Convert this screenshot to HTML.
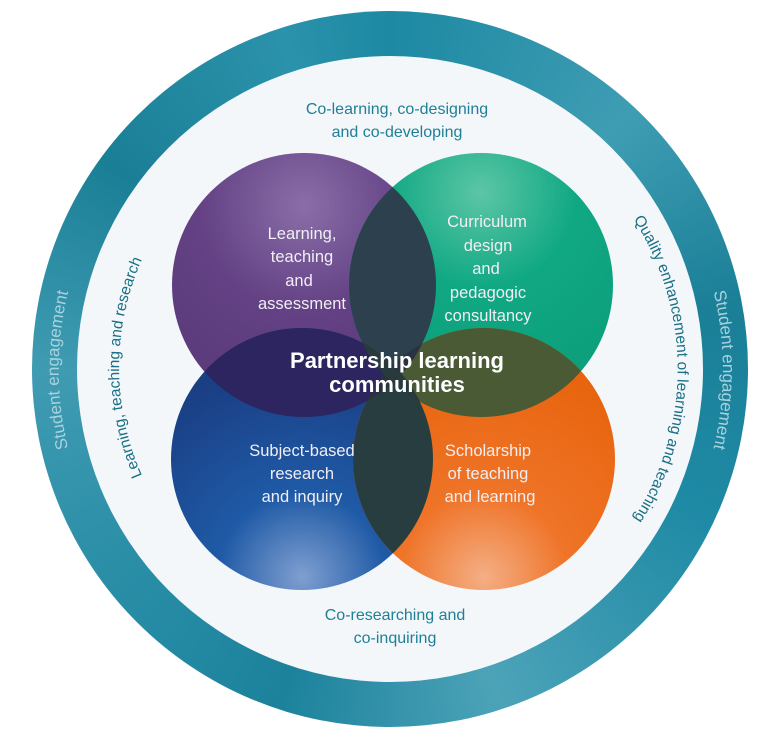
<!DOCTYPE html>
<html><head><meta charset="utf-8"><style>
html,body{margin:0;padding:0;background:#fff;}
body{width:768px;height:733px;overflow:hidden;position:relative;font-family:"Liberation Sans",sans-serif;}
#ring{position:absolute;left:32px;top:11px;width:716px;height:716px;border-radius:50%;
background:conic-gradient(from 0deg,#1d89a3,#3f9db3 12%,#1a7f97 22%,#1f8aa5 32%,#4ca3b8 45%,#1c829c 55%,#2a8ea7 65%,#3f9bb2 75%,#1a7f96 85%,#2b92ab 95%,#1d89a3);}
svg{position:absolute;left:0;top:0;}
</style></head><body>
<div id="ring"></div>
<svg width="768" height="733" viewBox="0 0 768 733">
<defs>
<radialGradient id="gp" cx="0.5" cy="0.2" r="0.8"><stop offset="0" stop-color="#8a6ea8"/><stop offset="0.5" stop-color="#634184"/><stop offset="1" stop-color="#5a3a7a"/></radialGradient>
<radialGradient id="gg" cx="0.5" cy="0.15" r="0.8"><stop offset="0" stop-color="#5cc6a6"/><stop offset="0.45" stop-color="#10a883"/><stop offset="1" stop-color="#0c9e7b"/></radialGradient>
<radialGradient id="gb" cx="0.5" cy="0.95" r="0.8"><stop offset="0" stop-color="#7f9fd0"/><stop offset="0.4" stop-color="#1f5aa6"/><stop offset="1" stop-color="#1a3f85"/></radialGradient>
<radialGradient id="go" cx="0.5" cy="0.95" r="0.8"><stop offset="0" stop-color="#f4ae85"/><stop offset="0.4" stop-color="#ef7428"/><stop offset="1" stop-color="#e8650f"/></radialGradient>
<clipPath id="cp"><circle cx="304" cy="285" r="132"/></clipPath>
<clipPath id="cg"><circle cx="481" cy="285" r="132"/></clipPath>
<clipPath id="cb"><circle cx="302" cy="459" r="131"/></clipPath>
<clipPath id="co"><circle cx="484" cy="459" r="131"/></clipPath>
<path id="pl" d="M 232 585 A 266 266 0 0 1 232 150"/>
<path id="pr" d="M 548 135 A 276 276 0 0 1 548 603"/>
<path id="sl" d="M 120 560 A 325 325 0 0 1 120 180"/>
<path id="sr" d="M 660 175 A 334 334 0 0 1 660 565"/>
</defs>
<circle cx="390" cy="369" r="313" fill="#f3f7f9"/>
<circle cx="304" cy="285" r="132" fill="url(#gp)"/>
<circle cx="481" cy="285" r="132" fill="url(#gg)"/>
<circle cx="302" cy="459" r="131" fill="url(#gb)"/>
<circle cx="484" cy="459" r="131" fill="url(#go)"/>
<g clip-path="url(#cp)"><circle cx="481" cy="285" r="132" fill="#2c414d"/></g>
<g clip-path="url(#cp)"><circle cx="302" cy="459" r="131" fill="#2c255f"/></g>
<g clip-path="url(#cg)"><circle cx="484" cy="459" r="131" fill="#4a5a35"/></g>
<g clip-path="url(#cb)"><circle cx="484" cy="459" r="131" fill="#283d40"/></g>
<g clip-path="url(#cp)"><g clip-path="url(#co)"><rect x="0" y="0" width="768" height="733" fill="#2a3140"/></g></g>
<g clip-path="url(#cg)"><g clip-path="url(#cb)"><rect x="0" y="0" width="768" height="733" fill="#283a3c"/></g></g>
<g fill="#f1eef4" font-size="16.5" text-anchor="middle">
<text x="302" y="239">Learning,</text><text x="302" y="262">teaching</text><text x="299" y="286">and</text><text x="302" y="309">assessment</text>
<text x="487" y="227">Curriculum</text><text x="488" y="251">design</text><text x="486" y="274">and</text><text x="488" y="298">pedagogic</text><text x="488" y="321">consultancy</text>
<text x="302" y="456">Subject-based</text><text x="302" y="479">research</text><text x="302" y="502">and inquiry</text>
<text x="488" y="456">Scholarship</text><text x="488" y="479">of teaching</text><text x="490" y="502">and learning</text>
</g>
<g fill="#fff" font-size="22" font-weight="bold" text-anchor="middle">
<text x="397" y="368">Partnership learning</text><text x="397" y="392">communities</text>
</g>
<g fill="#1f7f97" font-size="16" text-anchor="middle">
<text x="397" y="114">Co-learning, co-designing</text><text x="397" y="137">and co-developing</text>
<text x="395" y="620">Co-researching and</text><text x="395" y="643">co-inquiring</text>
</g>
<g font-size="15.5" fill="#1a6f86">
<text><textPath href="#pl" startOffset="50%" text-anchor="middle">Learning, teaching and research</textPath></text>
<text><textPath href="#pr" startOffset="50%" text-anchor="middle">Quality enhancement of learning and teaching</textPath></text>
</g>
<g font-size="17" fill="#a8d2de">
<text><textPath href="#sl" startOffset="50%" text-anchor="middle">Student engagement</textPath></text>
<text><textPath href="#sr" startOffset="50%" text-anchor="middle">Student engagement</textPath></text>
</g>
</svg>
</body></html>
